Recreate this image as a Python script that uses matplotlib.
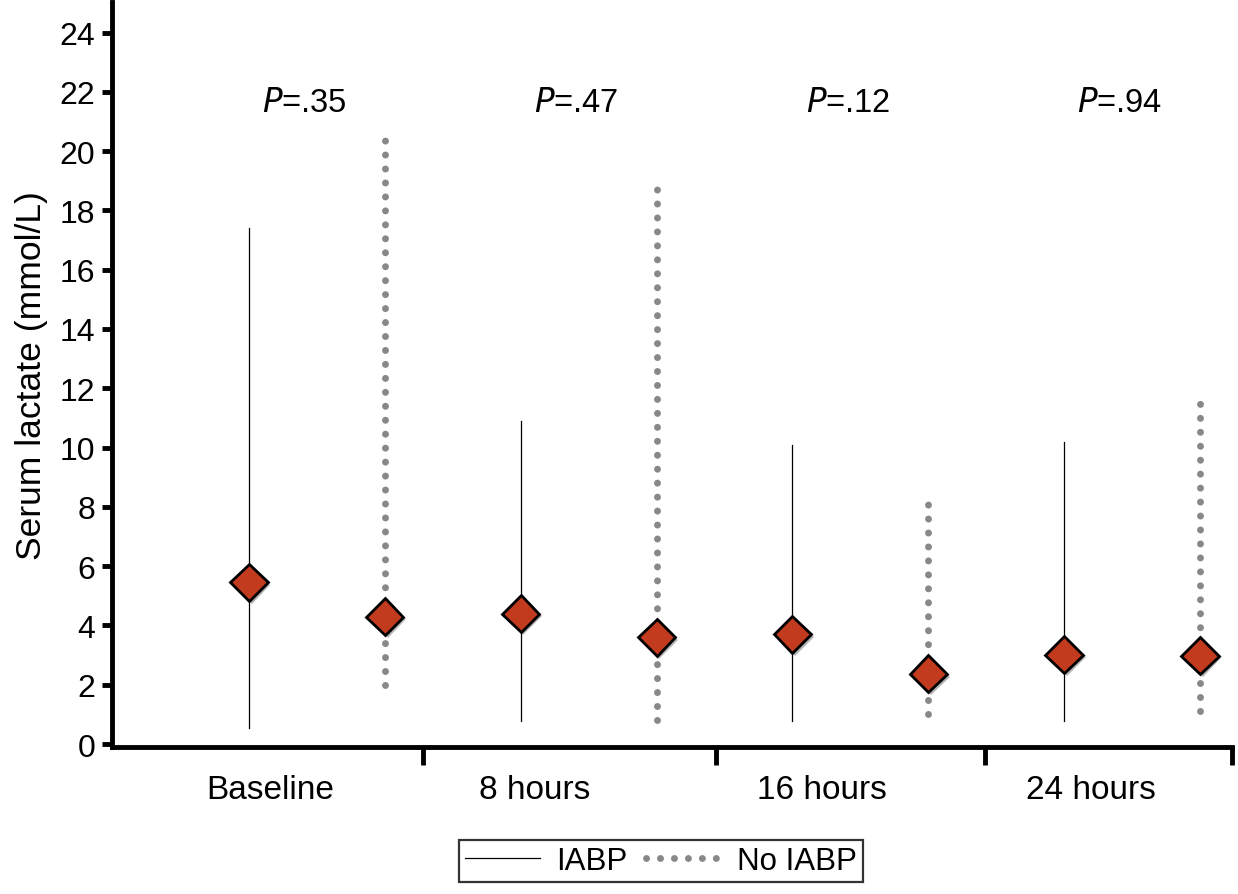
import matplotlib
matplotlib.use("Agg")
import matplotlib.pyplot as plt
import matplotlib.patheffects as pe
from matplotlib.lines import Line2D

plt.rcParams['font.family'] = ['Liberation Sans', 'DejaVu Sans']

categories = ["Baseline", "8 hours", "16 hours", "24 hours"]
p_values = [".35", ".47", ".12", ".94"]

iabp_median = [5.45, 4.4, 3.7, 3.02]
iabp_low = [0.55, 0.78, 0.78, 0.78]
iabp_high = [17.4, 10.9, 10.1, 10.2]

noiabp_median = [4.3, 3.6, 2.37, 2.98]
noiabp_low = [2.0, 0.82, 1.02, 1.12]
noiabp_high = [20.8, 18.9, 8.3, 11.7]

yticks = list(range(0, 25, 2))

W, H = 1238, 895
fig = plt.figure(figsize=(W / 100, H / 100), dpi=100)
ax = fig.add_axes([112 / W, (H - 748) / H, (1232 - 112) / W, (748 - 3) / H])

off = 0.25
diamond_color = "#C23B1E"
dot_color = "#888888"
dot_style = (0, (0.01, 2.0))
shadow = [pe.SimplePatchShadow(offset=(2, -2), shadow_rgbFace="0.35", alpha=0.45), pe.Normal()]

for i in range(len(categories)):
    xa = i - off
    xb = i + off
    ax.plot([xa, xa], [iabp_low[i], iabp_high[i]], color="black", lw=0.9, zorder=2)
    ax.plot([xb, xb], [noiabp_low[i], noiabp_high[i]], color=dot_color, lw=5.0,
            linestyle=dot_style, dash_capstyle="round", zorder=2)
    for xv, yv in ((xa, iabp_median[i]), (xb, noiabp_median[i])):
        ax.plot([xv], [yv], marker="D", markersize=19, markerfacecolor=diamond_color,
                markeredgecolor="black", markeredgewidth=2.0, zorder=3,
                path_effects=shadow)
    ax.text(i - 0.045, 21.65, r"$\it{P}$" + "=" + p_values[i], ha="center", va="center",
            fontsize=23.5)

ax.set_xlim(-0.754, 3.368)
ax.set_ylim(-0.1, 25.03)

ax.set_yticks(yticks)
ax.set_yticklabels([str(v) for v in yticks], fontsize=23)
ax.tick_params(axis="y", direction="out", length=7, width=3.5, pad=5)

# category boundary ticks
bounds = [0.39, 1.47, 2.46, 3.368]
ax.set_xticks(bounds)
ax.set_xticklabels([])
ax.tick_params(axis="x", direction="out", length=13, width=3.5)
label_shift = [-0.17, -0.2, -0.14, -0.15]
for i, c in enumerate(categories):
    ax.text(i + label_shift[i], -1.55, c, ha="center", va="center", fontsize=24,
            transform=ax.transData, clip_on=False)

for s in ("top", "right"):
    ax.spines[s].set_visible(False)
for s in ("left", "bottom"):
    ax.spines[s].set_linewidth(3.5)

ax.set_ylabel("Serum lactate (mmol/L)", fontsize=25.5, labelpad=8)

handles = [
    Line2D([], [], color="black", lw=0.9),
    Line2D([], [], color=dot_color, lw=5.0, linestyle=dot_style, dash_capstyle="round"),
]
leg = fig.legend(handles, ["IABP", "No IABP"], loc="center",
                 bbox_to_anchor=((447 + 875) / 2 / W, 1 - 862 / H),
                 ncol=2, fontsize=22.5, frameon=True, fancybox=False,
                 edgecolor="black", handlelength=2.4, columnspacing=0.6,
                 handletextpad=0.5, borderpad=0.2, borderaxespad=0)
leg.get_frame().set_linewidth(1.6)

fig.savefig("out.png", dpi=100)
